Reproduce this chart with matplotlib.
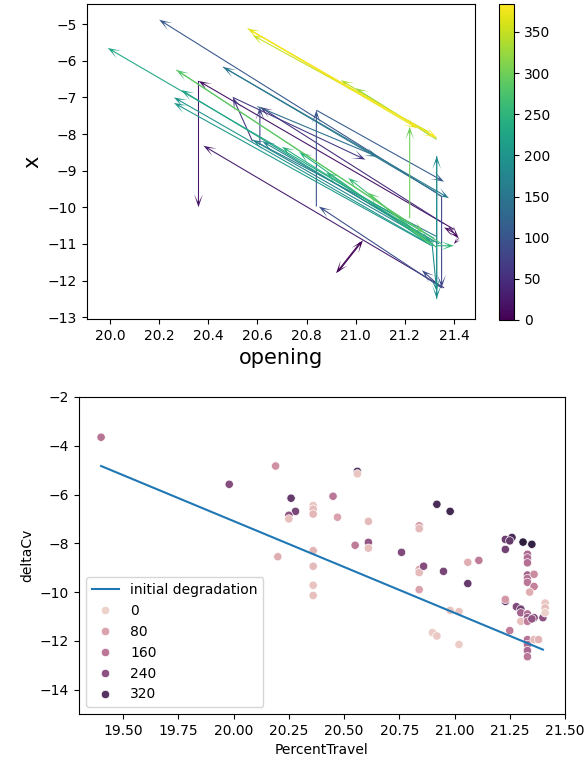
import numpy as np
import pandas as pd
import matplotlib
matplotlib.use("Agg")
import matplotlib.pyplot as plt
import matplotlib.colors as mcolors
import seaborn as sns

# ---------------- top chart: arrows (opening vs x), coloured by step ----------------
arrow_x0 = [20.93, 21.02, 21.38, 21.42, 21.40, 21.40, 20.36, 21.36, 21.36, 20.58,
            20.50, 20.61, 21.35, 21.35, 21.35, 20.84, 21.35, 20.84, 20.60, 21.33,
            20.46, 21.33, 20.58, 21.33, 21.33, 21.31, 21.30, 21.31, 21.30, 21.32,
            21.30, 21.32, 21.33, 21.33, 21.35, 21.30, 20.27, 21.22, 21.33, 21.30,
            21.30, 21.33, 20.56, 20.58, 21.34, 21.32]
arrow_y0 = [-11.75, -10.95, -10.55, -10.85, -10.70, -10.60, -6.55, -12.20, -10.45, -8.20,
            -7.00, -8.30, -9.70, -12.20, -12.20, -9.98, -9.70, -7.35, -7.25, -9.60,
            -6.17, -10.80, -8.16, -12.50, -8.60, -10.90, -11.00, -11.05, -10.90, -10.85,
            -11.00, -11.05, -11.05, -11.10, -11.00, -11.00, -6.25, -10.30, -8.15, -8.00,
            -7.95, -8.10, -5.12, -5.20, -11.00, -10.95]
arrow_x1 = [21.03, 20.92, 21.42, 21.40, 21.36, 20.36, 20.36, 20.38, 20.61, 20.50,
            21.04, 20.61, 21.35, 21.27, 20.85, 20.84, 20.20, 21.36, 21.09, 20.46,
            21.38, 20.58, 21.31, 21.33, 21.33, 21.33, 20.26, 20.26, 20.29, 19.99,
            20.77, 20.88, 21.40, 20.97, 20.27, 21.05, 21.28, 21.22, 21.00, 20.94,
            20.58, 20.56, 21.25, 21.33, 20.62, 20.70]
arrow_y1 = [-10.90, -11.80, -10.85, -11.00, -10.55, -6.55, -10.00, -8.32, -7.26, -7.00,
            -8.70, -7.26, -12.20, -11.72, -9.98, -7.35, -4.88, -9.30, -8.62, -6.17,
            -9.75, -8.16, -10.95, -8.60, -12.50, -12.30, -7.00, -7.15, -6.80, -5.65,
            -8.49, -9.05, -11.05, -9.20, -6.25, -9.60, -10.70, -7.80, -6.75, -6.53,
            -5.30, -5.12, -7.84, -8.10, -8.20, -8.35]
arrow_t = [2, 5, 9, 12, 14, 18, 22, 32, 50, 60,
           66, 80, 85, 88, 92, 98, 105, 110, 140, 150,
           155, 165, 172, 180, 185, 190, 198, 205, 218, 228,
           238, 248, 252, 262, 272, 285, 290, 300, 325, 340,
           352, 362, 372, 382, 175, 245]

# ---------------- bottom chart: scatter + initial degradation line ----------------
percent_travel = [19.40, 19.98, 20.19, 20.20, 20.26, 20.28, 20.25, 20.25, 20.36, 20.36,
                  20.36, 20.36, 20.36, 20.36, 20.36, 20.45, 20.47, 20.56, 20.56, 20.61,
                  20.55, 20.61, 20.61, 20.76, 20.84, 20.84, 20.84, 20.84, 20.86, 20.84,
                  20.92, 20.95, 20.98, 20.90, 20.92, 20.98, 21.02, 21.02, 21.06, 21.06,
                  21.11, 21.23, 21.23, 21.26, 21.25, 21.35, 21.33, 21.33, 21.33, 21.33,
                  21.33, 21.33, 21.36, 21.36, 21.34, 21.23, 21.23, 21.28, 21.30, 21.30,
                  21.30, 21.33, 21.33, 21.33, 21.36, 21.40, 21.41, 21.41, 21.41, 21.25,
                  21.33, 21.33, 21.33, 21.33, 21.36, 21.38, 21.31, 21.35]
delta_cv = [-3.65, -5.58, -4.83, -8.55, -6.15, -6.69, -6.85, -7.00, -6.45, -6.60,
            -6.80, -8.30, -8.94, -9.72, -10.14, -6.07, -6.93, -5.05, -5.15, -7.10,
            -8.08, -7.96, -8.20, -8.37, -7.28, -7.40, -9.07, -9.20, -8.94, -9.90,
            -6.40, -9.15, -6.69, -11.66, -11.80, -10.75, -10.80, -12.15, -8.78, -9.65,
            -8.70, -7.84, -8.25, -7.76, -7.90, -8.04, -8.45, -8.60, -8.80, -9.30,
            -9.45, -9.60, -9.27, -9.77, -10.00, -10.38, -10.30, -10.60, -10.70, -10.85,
            -11.20, -10.90, -11.05, -11.20, -11.05, -11.05, -10.45, -10.65, -10.85, -11.58,
            -11.95, -12.15, -12.40, -12.65, -11.95, -11.95, -7.95, -11.10]
step = [165, 250, 110, 60, 300, 270, 240, 30, 20, 35,
        45, 50, 40, 25, 30, 160, 80, 340, 20, 40,
        150, 230, 30, 260, 90, 40, 70, 40, 250, 80,
        340, 270, 350, 10, 15, 20, 25, 10, 60, 300,
        150, 290, 280, 340, 300, 370, 190, 180, 175, 200,
        180, 160, 120, 140, 60, 320, 100, 260, 280, 200,
        30, 180, 220, 150, 250, 240, 20, 30, 0, 150,
        170, 180, 190, 160, 40, 50, 383, 230]

degradation_x = [19.40, 21.40]
degradation_y = [-4.83, -12.36]

# ---------------- figure ----------------
W, H = 585, 759
DPI = 100
fig = plt.figure(figsize=(W / DPI, H / DPI), dpi=DPI)

ax1 = fig.add_axes([87 / W, 1 - 319 / H, 388 / W, 315 / H])
cax = fig.add_axes([499 / W, 1 - 320 / H, 15 / W, 316 / H])

x0 = np.array(arrow_x0); y0 = np.array(arrow_y0)
u = np.array(arrow_x1) - x0; v = np.array(arrow_y1) - y0
norm = mcolors.Normalize(vmin=0, vmax=384)
q = ax1.quiver(x0, y0, u, v, np.array(arrow_t), cmap="viridis", norm=norm,
               angles="xy", scale_units="xy", scale=1,
               width=0.0028, headwidth=8, headlength=12, headaxislength=5)
ax1.set_xlim(19.906, 21.486)
ax1.set_ylim(-13.05, -4.45)
ax1.set_xticks([20.0, 20.2, 20.4, 20.6, 20.8, 21.0, 21.2, 21.4])
ax1.set_yticks([-13, -12, -11, -10, -9, -8, -7, -6, -5])
ax1.set_xlabel("opening", fontsize=15)
ax1.set_ylabel("x", fontsize=15)
cb = fig.colorbar(q, cax=cax)
cb.set_ticks([0, 50, 100, 150, 200, 250, 300, 350])

ax2 = fig.add_axes([79 / W, 1 - 714 / H, 486 / W, 317 / H])
df = pd.DataFrame({"PercentTravel": percent_travel, "deltaCv": delta_cv, "t": step})
ax2.plot(degradation_x, degradation_y, color="C0", label="initial degradation")
sns.scatterplot(data=df, x="PercentTravel", y="deltaCv", hue="t", ax=ax2)
ax2.set_xlim(19.3, 21.5)
ax2.set_ylim(-15, -2)
ax2.legend(loc="lower left")

fig.savefig("out.png", dpi=DPI)
